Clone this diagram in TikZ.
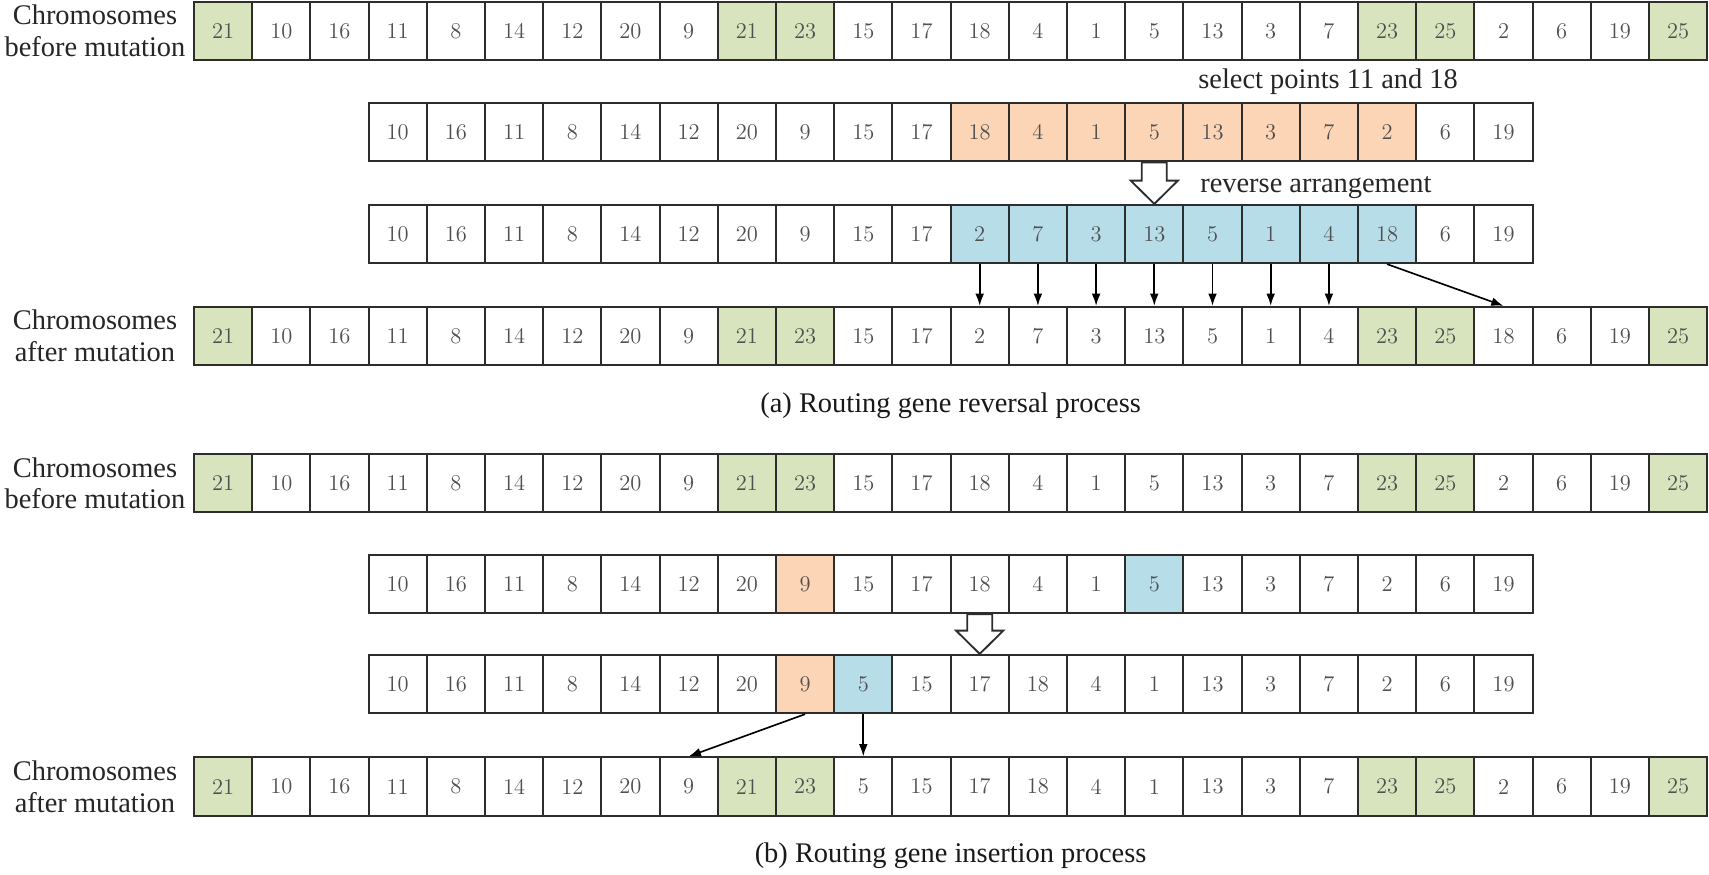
\documentclass[tikz,border=0pt]{standalone}
\usepackage{fontspec}
\usetikzlibrary{arrows.meta,calc}
\newfontfamily\labelfont{Liberation Serif}

\definecolor{geneGreen}{RGB}{215,228,189}
\definecolor{geneOrange}{RGB}{251,213,181}
\definecolor{geneBlue}{RGB}{183,222,232}
\definecolor{geneBorder}{RGB}{45,45,45}
\definecolor{geneText}{RGB}{80,80,80}

\begin{document}
\begin{tikzpicture}[x=1cm,y=1cm,
      gene/.style={draw=geneBorder, line width=1pt, minimum width=1cm,
        minimum height=1cm, inner sep=0pt, text=geneText,
        font=\fontsize{11}{13}\selectfont},
      rowlabel/.style={font=\labelfont\fontsize{13.9}{15.6}\selectfont,
        align=center, text=black!85},
      note/.style={font=\labelfont\fontsize{13.9}{15.6}\selectfont,
        text=black!85},
      caption/.style={font=\labelfont\fontsize{13.9}{15.6}\selectfont,
        text=black!90},
      link/.style={-{Latex[length=2.1mm,width=1.5mm]}, line width=.8pt},
      hollow/.style={draw=geneBorder, fill=white, line width=.9pt,
        line join=miter}]
      \useasboundingbox (0,0) rectangle (29.364,-15.017);
      \fill[white] (0,0) rectangle (29.364,-15.017);

      % (a) reversal
      \node[rowlabel] (labA1) at (1.632,-.533) {Chromosomes\\before mutation};
      \foreach[count=\i from 0] \v/\c in {
          21/geneGreen,10/white,16/white,11/white,8/white,14/white,12/white,
          20/white,9/white,21/geneGreen,23/geneGreen,15/white,17/white,
          18/white,4/white,1/white,5/white,13/white,3/white,7/white,
          23/geneGreen,25/geneGreen,2/white,6/white,19/white,25/geneGreen}{
        \node[gene, fill=\c] (a1-\i) at ({3.833+\i},-.533) {\v};}

      \node[note] (selA) at (22.82,-1.409) {select points 11 and 18};
      \foreach[count=\i from 3] \v/\c in {
          10/white,16/white,11/white,8/white,14/white,12/white,20/white,
          9/white,15/white,17/white,18/geneOrange,4/geneOrange,1/geneOrange,
          5/geneOrange,13/geneOrange,3/geneOrange,7/geneOrange,2/geneOrange,
          6/white,19/white}{
        \node[gene, fill=\c] (a2-\i) at ({3.833+\i},-2.272) {\v};}

      \node[note] (revA) at (22.61,-3.230) {reverse arrangement};
      \foreach[count=\i from 3] \v/\c in {
          10/white,16/white,11/white,8/white,14/white,12/white,20/white,
          9/white,15/white,17/white,2/geneBlue,7/geneBlue,3/geneBlue,
          13/geneBlue,5/geneBlue,1/geneBlue,4/geneBlue,18/geneBlue,
          6/white,19/white}{
        \node[gene, fill=\c] (a3-\i) at ({3.833+\i},-4.021) {\v};}

      \node[rowlabel] (labA4) at (1.632,-5.773) {Chromosomes\\after mutation};
      \foreach[count=\i from 0] \v/\c in {
          21/geneGreen,10/white,16/white,11/white,8/white,14/white,12/white,
          20/white,9/white,21/geneGreen,23/geneGreen,15/white,17/white,
          2/white,7/white,3/white,13/white,5/white,1/white,4/white,
          23/geneGreen,25/geneGreen,18/white,6/white,19/white,25/geneGreen}{
        \node[gene, fill=\c] (a4-\i) at ({3.833+\i},-5.773) {\v};}

      \draw[hollow] let \p1=(a2-16.south), \p2=(a3-16.north) in
        (\x1-.215cm,\y1) -- (\x1-.215cm,\y2+.4cm) -- (\x1-.405cm,\y2+.4cm)
        -- (\x2,\y2) -- (\x1+.405cm,\y2+.4cm) -- (\x1+.215cm,\y2+.4cm)
        -- (\x1+.215cm,\y1) -- cycle;
      \foreach \k in {13,...,19}
        \draw[link] (a3-\k.south) -- (a4-\k.north);
      \draw[link] (a3-20.south) -- (a4-22.north);

      \node[caption] (capA) at (16.333,-6.976) {(a) Routing gene reversal process};

      % (b) insertion
      \node[rowlabel] (labB1) at (1.632,-8.304) {Chromosomes\\before mutation};
      \foreach[count=\i from 0] \v/\c in {
          21/geneGreen,10/white,16/white,11/white,8/white,14/white,12/white,
          20/white,9/white,21/geneGreen,23/geneGreen,15/white,17/white,
          18/white,4/white,1/white,5/white,13/white,3/white,7/white,
          23/geneGreen,25/geneGreen,2/white,6/white,19/white,25/geneGreen}{
        \node[gene, fill=\c] (b1-\i) at ({3.833+\i},-8.304) {\v};}

      \foreach[count=\i from 3] \v/\c in {
          10/white,16/white,11/white,8/white,14/white,12/white,20/white,
          9/geneOrange,15/white,17/white,18/white,4/white,1/white,
          5/geneBlue,13/white,3/white,7/white,2/white,6/white,19/white}{
        \node[gene, fill=\c] (b2-\i) at ({3.833+\i},-10.034) {\v};}

      \foreach[count=\i from 3] \v/\c in {
          10/white,16/white,11/white,8/white,14/white,12/white,20/white,
          9/geneOrange,5/geneBlue,15/white,17/white,18/white,4/white,
          1/white,13/white,3/white,7/white,2/white,6/white,19/white}{
        \node[gene, fill=\c] (b3-\i) at ({3.833+\i},-11.753) {\v};}

      \node[rowlabel] (labB4) at (1.632,-13.514) {Chromosomes\\after mutation};
      \foreach[count=\i from 0] \v/\c in {
          21/geneGreen,10/white,16/white,11/white,8/white,14/white,12/white,
          20/white,9/white,21/geneGreen,23/geneGreen,5/white,15/white,
          17/white,18/white,4/white,1/white,13/white,3/white,7/white,
          23/geneGreen,25/geneGreen,2/white,6/white,19/white,25/geneGreen}{
        \node[gene, fill=\c] (b4-\i) at ({3.833+\i},-13.514) {\v};}

      \draw[hollow] let \p1=(b2-13.south), \p2=(b3-13.north) in
        (\x1-.215cm,\y1) -- (\x1-.215cm,\y2+.4cm) -- (\x1-.405cm,\y2+.4cm)
        -- (\x2,\y2) -- (\x1+.405cm,\y2+.4cm) -- (\x1+.215cm,\y2+.4cm)
        -- (\x1+.215cm,\y1) -- cycle;
      \draw[link] (b3-10.south) -- (b4-8.north);
      \draw[link] (b3-11.south) -- (b4-11.north);

      \node[caption] (capB) at (16.333,-14.708) {(b) Routing gene insertion process};
    \end{tikzpicture}
\end{document}
